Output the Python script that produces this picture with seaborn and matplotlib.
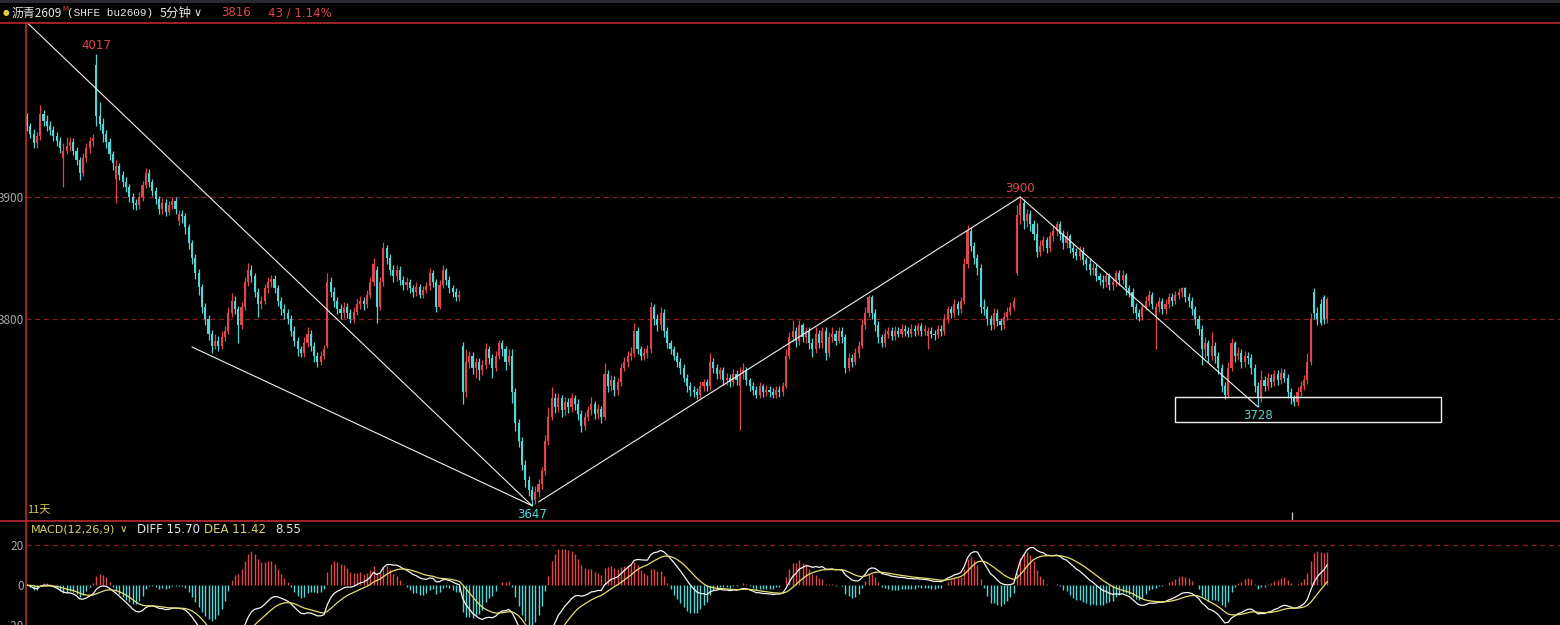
import numpy as np
import pandas as pd
import matplotlib
matplotlib.use("Agg")
import matplotlib.pyplot as plt
from matplotlib.lines import Line2D
from matplotlib.patches import Rectangle
import seaborn as sns

# ---------------- data (5-minute bars) ----------------
opens = [
 3966, 3958, 3952, 3944, 3950, 3968, 3962, 3958, 3955, 3950,
 3946, 3932, 3938, 3942, 3945, 3938, 3930, 3920, 3932, 3940,
 3946, 4008, 3966, 3960, 3952, 3945, 3935, 3915, 3925, 3918,
 3912, 3908, 3900, 3895, 3893, 3900, 3910, 3920, 3912, 3905,
 3898, 3890, 3895, 3888, 3893, 3897, 3880, 3886, 3884, 3875,
 3862, 3850, 3838, 3826, 3810, 3800, 3788, 3778, 3782, 3778,
 3785, 3790, 3805, 3815, 3808, 3795, 3810, 3830, 3840, 3835,
 3822, 3812, 3815, 3825, 3830, 3833, 3825, 3815, 3808, 3805,
 3800, 3790, 3782, 3775, 3772, 3780, 3788, 3778, 3770, 3765,
 3770, 3778, 3830, 3822, 3815, 3808, 3805, 3810, 3805, 3800,
 3806, 3812, 3815, 3812, 3820, 3830, 3840, 3810, 3830, 3858,
 3850, 3840, 3835, 3840, 3832, 3828, 3830, 3825, 3822, 3826,
 3820, 3824, 3827, 3838, 3830, 3810, 3828, 3840, 3832, 3825,
 3822, 3818, 3778, 3740, 3765, 3770, 3760, 3765, 3758, 3762,
 3775, 3768, 3760, 3770, 3780, 3775, 3765, 3770, 3740, 3715,
 3700, 3680, 3668, 3660, 3652, 3658, 3665, 3675, 3700, 3720,
 3735, 3728, 3735, 3725, 3732, 3728, 3735, 3730, 3722, 3712,
 3720, 3725, 3730, 3722, 3726, 3720, 3755, 3745, 3750, 3742,
 3748, 3760, 3765, 3770, 3772, 3790, 3775, 3770, 3772, 3775,
 3810, 3800, 3795, 3805, 3790, 3780, 3775, 3770, 3765, 3760,
 3752, 3745, 3742, 3740, 3738, 3745, 3748, 3745, 3765, 3760,
 3755, 3758, 3750, 3752, 3748, 3755, 3745, 3755, 3758, 3750,
 3745, 3742, 3738, 3745, 3740, 3742, 3740, 3738, 3742, 3740,
 3745, 3770, 3785, 3790, 3782, 3795, 3785, 3790, 3780, 3775,
 3788, 3780, 3790, 3772, 3785, 3788, 3782, 3790, 3785, 3760,
 3768, 3765, 3772, 3778, 3795, 3805, 3818, 3805, 3795, 3785,
 3780, 3788, 3790, 3786, 3790, 3788, 3792, 3790, 3788, 3792,
 3790, 3794, 3790, 3786, 3790, 3788, 3787, 3792, 3790, 3800,
 3808, 3805, 3812, 3808, 3815, 3845, 3872, 3860, 3850, 3842,
 3810, 3808, 3800, 3795, 3805, 3798, 3795, 3802, 3806, 3810,
 3838, 3885, 3895, 3880, 3886, 3878, 3870, 3855, 3860, 3865,
 3858, 3868, 3872, 3878, 3870, 3862, 3868, 3858, 3855, 3852,
 3856, 3848, 3845, 3840, 3842, 3835, 3832, 3830, 3835, 3828,
 3830, 3838, 3832, 3836, 3825, 3822, 3810, 3805, 3802, 3810,
 3815, 3820, 3802, 3810, 3815, 3808, 3812, 3818, 3815, 3820,
 3822, 3825, 3818, 3815, 3808, 3800, 3792, 3775, 3780, 3770,
 3778, 3770, 3760, 3745, 3738, 3760, 3780, 3770, 3772, 3765,
 3770, 3768, 3760, 3745, 3735, 3750, 3745, 3752, 3748, 3755,
 3750, 3756, 3752, 3740, 3735, 3732, 3740, 3745, 3750, 3765,
 3822, 3805, 3812, 3818, 3800]

highs = [
 3969, 3961, 3956, 3953, 3975, 3971, 3967, 3962, 3958, 3953,
 3949, 3944, 3949, 3949, 3948, 3941, 3933, 3936, 3944, 3949,
 3952, 4017, 3978, 3965, 3955, 3948, 3938, 3930, 3928, 3921,
 3916, 3911, 3903, 3898, 3904, 3913, 3924, 3923, 3915, 3908,
 3901, 3899, 3898, 3897, 3900, 3900, 3889, 3889, 3887, 3878,
 3865, 3853, 3841, 3829, 3813, 3803, 3791, 3788, 3786, 3790,
 3794, 3810, 3821, 3819, 3811, 3814, 3834, 3846, 3844, 3838,
 3825, 3819, 3829, 3834, 3836, 3836, 3828, 3818, 3812, 3808,
 3803, 3794, 3785, 3778, 3785, 3793, 3791, 3781, 3773, 3774,
 3779, 3838, 3834, 3826, 3818, 3812, 3814, 3813, 3808, 3810,
 3816, 3819, 3818, 3824, 3834, 3850, 3843, 3834, 3863, 3861,
 3853, 3844, 3844, 3843, 3835, 3834, 3833, 3828, 3830, 3829,
 3827, 3830, 3842, 3840, 3833, 3832, 3844, 3842, 3835, 3828,
 3825, 3824, 3781, 3775, 3774, 3773, 3768, 3768, 3766, 3780,
 3778, 3771, 3774, 3783, 3783, 3778, 3775, 3775, 3743, 3718,
 3703, 3684, 3671, 3663, 3663, 3669, 3679, 3705, 3728, 3744,
 3739, 3739, 3738, 3736, 3735, 3739, 3738, 3734, 3725, 3724,
 3729, 3736, 3733, 3730, 3729, 3764, 3758, 3754, 3753, 3752,
 3764, 3769, 3774, 3777, 3797, 3793, 3778, 3776, 3779, 3814,
 3812, 3804, 3810, 3808, 3793, 3783, 3778, 3773, 3768, 3763,
 3755, 3748, 3745, 3743, 3749, 3751, 3751, 3772, 3768, 3763,
 3761, 3761, 3756, 3755, 3759, 3758, 3761, 3764, 3761, 3752,
 3748, 3745, 3748, 3747, 3746, 3745, 3743, 3745, 3745, 3748,
 3775, 3789, 3799, 3793, 3799, 3797, 3793, 3793, 3784, 3793,
 3791, 3793, 3793, 3789, 3793, 3791, 3793, 3793, 3788, 3772,
 3771, 3776, 3782, 3800, 3810, 3820, 3820, 3808, 3798, 3788,
 3792, 3793, 3793, 3794, 3793, 3796, 3795, 3793, 3796, 3795,
 3797, 3797, 3795, 3793, 3793, 3791, 3795, 3795, 3804, 3811,
 3811, 3816, 3815, 3818, 3850, 3877, 3875, 3863, 3853, 3845,
 3816, 3811, 3803, 3809, 3808, 3801, 3806, 3810, 3814, 3818,
 3893, 3900, 3898, 3890, 3889, 3881, 3879, 3865, 3868, 3867,
 3871, 3876, 3880, 3880, 3873, 3872, 3870, 3862, 3858, 3860,
 3859, 3851, 3849, 3846, 3845, 3838, 3836, 3838, 3838, 3834,
 3840, 3840, 3840, 3838, 3828, 3825, 3813, 3808, 3813, 3819,
 3824, 3822, 3813, 3818, 3817, 3816, 3821, 3821, 3823, 3825,
 3826, 3826, 3821, 3818, 3811, 3803, 3795, 3785, 3783, 3789,
 3781, 3773, 3763, 3748, 3765, 3784, 3782, 3777, 3775, 3774,
 3773, 3771, 3763, 3748, 3758, 3753, 3756, 3755, 3758, 3758,
 3760, 3759, 3755, 3743, 3738, 3744, 3749, 3754, 3772, 3805,
 3825, 3810, 3816, 3820, 3818]

lows = [
 3954, 3948, 3940, 3940, 3947, 3958, 3954, 3951, 3946, 3942,
 3936, 3908, 3935, 3938, 3934, 3926, 3914, 3917, 3929, 3936,
 3942, 3958, 3955, 3945, 3940, 3930, 3922, 3895, 3914, 3908,
 3904, 3896, 3890, 3889, 3890, 3897, 3907, 3908, 3901, 3894,
 3886, 3886, 3884, 3885, 3890, 3886, 3877, 3879, 3870, 3857,
 3845, 3833, 3820, 3805, 3795, 3783, 3772, 3775, 3774, 3775,
 3782, 3788, 3802, 3804, 3780, 3792, 3807, 3827, 3830, 3818,
 3802, 3808, 3812, 3821, 3826, 3821, 3811, 3803, 3800, 3796,
 3786, 3778, 3770, 3769, 3769, 3777, 3774, 3765, 3761, 3762,
 3767, 3776, 3818, 3810, 3804, 3800, 3801, 3801, 3797, 3797,
 3803, 3808, 3807, 3809, 3817, 3827, 3797, 3807, 3827, 3845,
 3836, 3830, 3831, 3828, 3824, 3824, 3821, 3818, 3819, 3817,
 3817, 3821, 3824, 3826, 3806, 3808, 3825, 3828, 3821, 3818,
 3815, 3815, 3730, 3736, 3760, 3755, 3752, 3750, 3754, 3759,
 3763, 3752, 3757, 3767, 3770, 3758, 3762, 3731, 3708, 3695,
 3676, 3662, 3655, 3647, 3648, 3654, 3661, 3672, 3697, 3717,
 3723, 3724, 3720, 3721, 3723, 3724, 3725, 3717, 3707, 3709,
 3716, 3721, 3718, 3718, 3715, 3717, 3740, 3741, 3737, 3738,
 3745, 3757, 3761, 3766, 3769, 3771, 3766, 3766, 3768, 3772,
 3795, 3790, 3791, 3785, 3776, 3771, 3766, 3761, 3755, 3748,
 3740, 3737, 3736, 3734, 3735, 3741, 3741, 3742, 3756, 3751,
 3751, 3746, 3746, 3744, 3745, 3746, 3709, 3751, 3746, 3741,
 3738, 3735, 3735, 3736, 3737, 3736, 3735, 3735, 3736, 3737,
 3743, 3767, 3781, 3777, 3779, 3781, 3780, 3775, 3769, 3772,
 3776, 3776, 3766, 3769, 3781, 3779, 3780, 3780, 3756, 3757,
 3761, 3762, 3768, 3776, 3792, 3802, 3800, 3790, 3780, 3777,
 3777, 3784, 3783, 3783, 3785, 3785, 3786, 3785, 3785, 3786,
 3787, 3786, 3787, 3775, 3784, 3783, 3784, 3786, 3787, 3797,
 3801, 3802, 3803, 3805, 3812, 3842, 3856, 3845, 3836, 3805,
 3803, 3795, 3791, 3792, 3794, 3791, 3792, 3799, 3803, 3807,
 3836, 3878, 3874, 3875, 3872, 3865, 3851, 3852, 3856, 3854,
 3855, 3864, 3868, 3865, 3857, 3858, 3854, 3850, 3848, 3848,
 3844, 3840, 3836, 3836, 3831, 3828, 3825, 3826, 3824, 3824,
 3827, 3828, 3829, 3820, 3818, 3805, 3800, 3798, 3799, 3807,
 3811, 3808, 3775, 3806, 3804, 3804, 3809, 3811, 3812, 3816,
 3818, 3814, 3810, 3803, 3795, 3787, 3762, 3768, 3765, 3766,
 3764, 3755, 3740, 3734, 3736, 3757, 3765, 3766, 3760, 3761,
 3763, 3755, 3740, 3728, 3732, 3741, 3742, 3744, 3745, 3746,
 3747, 3748, 3735, 3730, 3729, 3729, 3737, 3742, 3747, 3762,
 3800, 3795, 3795, 3796, 3797]

closes = [
 3958, 3952, 3944, 3950, 3968, 3962, 3958, 3955, 3950, 3946,
 3940, 3938, 3942, 3945, 3938, 3930, 3920, 3932, 3940, 3946,
 3948, 3966, 3960, 3952, 3945, 3935, 3928, 3925, 3918, 3912,
 3908, 3900, 3895, 3893, 3900, 3910, 3920, 3912, 3905, 3898,
 3890, 3895, 3888, 3893, 3897, 3890, 3886, 3884, 3875, 3862,
 3850, 3838, 3826, 3810, 3800, 3788, 3778, 3782, 3778, 3785,
 3790, 3805, 3815, 3808, 3795, 3810, 3830, 3840, 3835, 3822,
 3812, 3815, 3825, 3830, 3833, 3825, 3815, 3808, 3805, 3800,
 3790, 3782, 3775, 3772, 3780, 3788, 3778, 3770, 3765, 3770,
 3775, 3830, 3822, 3815, 3808, 3805, 3810, 3805, 3800, 3806,
 3812, 3815, 3812, 3820, 3830, 3845, 3810, 3830, 3858, 3850,
 3840, 3835, 3840, 3832, 3828, 3830, 3825, 3822, 3826, 3820,
 3824, 3827, 3838, 3830, 3810, 3828, 3840, 3832, 3825, 3822,
 3818, 3820, 3740, 3765, 3770, 3760, 3765, 3758, 3762, 3775,
 3768, 3760, 3770, 3780, 3775, 3765, 3770, 3740, 3715, 3700,
 3680, 3668, 3660, 3652, 3658, 3665, 3675, 3700, 3720, 3735,
 3728, 3735, 3725, 3732, 3728, 3735, 3730, 3722, 3712, 3720,
 3725, 3730, 3722, 3726, 3720, 3755, 3745, 3750, 3742, 3748,
 3760, 3765, 3770, 3772, 3790, 3775, 3770, 3772, 3775, 3810,
 3800, 3795, 3805, 3790, 3780, 3775, 3770, 3765, 3760, 3752,
 3745, 3742, 3740, 3738, 3745, 3748, 3745, 3765, 3760, 3755,
 3758, 3750, 3752, 3748, 3755, 3750, 3755, 3758, 3750, 3745,
 3742, 3738, 3745, 3740, 3742, 3740, 3738, 3742, 3740, 3745,
 3770, 3785, 3790, 3782, 3795, 3785, 3790, 3780, 3775, 3788,
 3780, 3790, 3772, 3785, 3788, 3782, 3790, 3785, 3760, 3768,
 3765, 3772, 3778, 3795, 3805, 3818, 3805, 3795, 3785, 3780,
 3788, 3790, 3786, 3790, 3788, 3792, 3790, 3788, 3792, 3790,
 3794, 3790, 3792, 3790, 3788, 3787, 3792, 3790, 3800, 3808,
 3805, 3812, 3808, 3815, 3845, 3872, 3860, 3850, 3842, 3810,
 3808, 3800, 3795, 3805, 3798, 3795, 3802, 3806, 3810, 3815,
 3885, 3895, 3880, 3886, 3878, 3870, 3855, 3860, 3865, 3858,
 3868, 3872, 3878, 3870, 3862, 3868, 3858, 3855, 3852, 3856,
 3848, 3845, 3840, 3842, 3835, 3832, 3830, 3835, 3828, 3830,
 3838, 3832, 3836, 3825, 3822, 3810, 3805, 3802, 3810, 3815,
 3820, 3812, 3810, 3815, 3808, 3812, 3818, 3815, 3820, 3822,
 3825, 3818, 3815, 3808, 3800, 3792, 3775, 3780, 3770, 3778,
 3770, 3760, 3745, 3738, 3760, 3780, 3770, 3772, 3765, 3770,
 3768, 3760, 3745, 3735, 3750, 3745, 3752, 3748, 3755, 3750,
 3756, 3752, 3740, 3735, 3732, 3740, 3745, 3750, 3765, 3800,
 3805, 3800, 3797, 3800, 3816]

price_ticks = [3900, 3800]
macd_ticks = [20, 0, -20]

# hand-drawn trend lines (bar index, price) and the support box
trend_idx = [[0, 153], [50, 153], [155, 301], [301, 373]]
trend_px = [[4043, 3647], [3777, 3647], [3650, 3900], [3900, 3728]]
box_idx = [348, 428.5]
box_px = [3715.5, 3736]

# extreme-point labels
mark_idx = [21, 301, 153, 373]
mark_px = [4017, 3900, 3647, 3728]
mark_txt = ["4017", "3900", "3647", "3728"]

header_name = "沥青2609"
header_code = "(SHFE bu2609)"
header_period = "5分钟"
header_last = "3816"
header_chg = "43 / 1.14%"
macd_name = "MACD(12,26,9)"
macd_vals = ["DIFF 15.70", "DEA 11.42", "8.55"]
days_label = "11天"

# ---------------- style ----------------
RED = "#e0474c"
CYAN = "#55d6d6"
WHITE = "#e8e8e8"
YEL = "#dcd26a"
GRID = "#8a1f22"
SEP = "#c0282d"
TXT = "#a8a8a8"

sns.set_theme(style="dark", rc={"axes.facecolor": "black", "figure.facecolor": "black",
                                "savefig.facecolor": "black", "axes.edgecolor": "black"})
plt.rcParams['font.family'] = ['Noto Sans CJK SC', 'DejaVu Sans']

W, H = 1560, 625
fig = plt.figure(figsize=(W / 100, H / 100), dpi=100)
fig.patch.set_facecolor("black")


def fx(px):
    return px / W


def fy(py):
    return 1 - py / H


ax = fig.add_axes([fx(26), fy(520), (W - 26) / W, (520 - 22) / H])
axm = fig.add_axes([fx(26), 0, (W - 26) / W, (625 - 521) / H])

x0 = 27.0
step = 3.3
for a in (ax, axm):
    a.set_facecolor("black")
    a.set_xlim((26 - x0) / step, (W - x0) / step)
    for s in a.spines.values():
        s.set_visible(False)
    a.set_xticks([])
    a.grid(False)
    a.tick_params(axis="y", length=0, pad=1.5, labelcolor=TXT, labelsize=8.5)

ax.set_ylim(3635.2, 4043.4)
axm.set_ylim(-18.5, 32.2)

# ---------------- candles ----------------
o = np.array(opens, float)
h = np.array(highs, float)
l = np.array(lows, float)
c = np.array(closes, float)
idx = np.arange(len(c))
cols = np.where(c > o, RED, np.where(c < o, CYAN, WHITE))
ax.vlines(idx, l, h, colors=cols, linewidth=0.9)
ax.bar(idx, np.maximum(np.abs(c - o), 0.9), bottom=np.minimum(o, c), width=0.64,
       color=cols, linewidth=0)

ax.set_yticks(price_ticks)
ax.set_yticklabels([str(t) for t in price_ticks])
for t in price_ticks:
    ax.axhline(t, color=GRID, linewidth=0.9, linestyle=(0, (4, 3)), zorder=0)

# trend lines and box
for tx, ty in zip(trend_idx, trend_px):
    ax.plot(tx, ty, color="#f0f0f0", linewidth=0.8, zorder=5)
ax.add_patch(Rectangle((box_idx[0], box_px[0]), box_idx[1] - box_idx[0], box_px[1] - box_px[0],
                       fill=False, edgecolor="#f0f0f0", linewidth=1.0, zorder=5))

for i, p, t in zip(mark_idx, mark_px, mark_txt):
    is_high = p >= max(h[max(i - 3, 0):i + 4])
    ax.annotate(t, (i, p), xytext=(0, 1.5 if is_high else -1.5), textcoords="offset points",
                ha="center", va="bottom" if is_high else "top", fontsize=8.5,
                color=RED if is_high else CYAN, family=["DejaVu Sans"], zorder=6)

# small cursor tick at bottom of price panel
ax.vlines(383.3, 3635.2, 3641.8, colors="#c8c8c8", linewidth=0.9)

# ---------------- MACD ----------------
s = pd.Series(c)
ema12 = s.ewm(span=12, adjust=False).mean()
ema26 = s.ewm(span=26, adjust=False).mean()
diff = ema12 - ema26
dea = diff.ewm(span=9, adjust=False).mean()
hist = 2 * (diff - dea)
hcols = np.where(hist >= 0, RED, CYAN)
axm.vlines(idx, 0, hist.values, colors=hcols, linewidth=1.0)
mdf = pd.DataFrame({"i": idx, "diff": diff.values, "dea": dea.values})
sns.lineplot(data=mdf, x="i", y="diff", ax=axm, color="#f4f4f4", linewidth=0.9)
sns.lineplot(data=mdf, x="i", y="dea", ax=axm, color="#e6de70", linewidth=0.9)
axm.set_xlabel("")
axm.set_ylabel("")
axm.set_xticks([])
axm.set_yticks(macd_ticks)
axm.set_yticklabels([str(t) for t in macd_ticks])
axm.set_xlim((26 - x0) / step, (W - x0) / step)
axm.axhline(20, color=GRID, linewidth=0.9, linestyle=(0, (4, 3)), zorder=0)

# ---------------- frame lines & header ----------------
fig.add_artist(Rectangle((0, fy(3)), 1, 3 / H, transform=fig.transFigure,
                         facecolor="#2a2a30", edgecolor="none"))
fig.add_artist(Line2D([0, 1], [fy(22.5), fy(22.5)], transform=fig.transFigure, color=SEP, linewidth=1.2))
fig.add_artist(Line2D([0, 1], [fy(520.5), fy(520.5)], transform=fig.transFigure, color=SEP, linewidth=1.2))
fig.add_artist(Line2D([fx(26.5), fx(26.5)], [fy(22.5), 0], transform=fig.transFigure, color=SEP, linewidth=1.2))

hy = fy(13)
fig.text(fx(3), hy, "●", color="#e0d040", fontsize=5.5, va="center", family=["DejaVu Sans"])
fig.text(fx(11), hy, header_name, color="#e6e6e6", fontsize=8.6, va="center")
fig.text(fx(62), fy(9), "M", color=RED, fontsize=5, va="center", family=["DejaVu Sans"])
fig.text(fx(67), hy, header_code, color="#e6e6e6", fontsize=8, va="center", family=["Liberation Mono", "DejaVu Sans Mono"])
fig.text(fx(160), hy, header_period, color="#e6e6e6", fontsize=9, va="center")
fig.text(fx(194), hy, "∨", color="#e6e6e6", fontsize=8, va="center", family=["DejaVu Sans"])
fig.text(fx(221), hy, header_last, color=RED, fontsize=8.5, va="center", family=["DejaVu Sans"])
fig.text(fx(268), hy, header_chg, color=RED, fontsize=8.5, va="center", family=["DejaVu Sans"])

fig.text(fx(27), fy(510), days_label, color="#d8c85a", fontsize=8, va="center")

my = fy(529.5)
fig.text(fx(31), my, macd_name, color=YEL, fontsize=8, va="center", family=["DejaVu Sans"])
fig.text(fx(120), my, "∨", color=YEL, fontsize=7.5, va="center", family=["DejaVu Sans"])
fig.text(fx(137), my, macd_vals[0], color="#e6e6e6", fontsize=8.5, va="center", family=["DejaVu Sans"])
fig.text(fx(204), my, macd_vals[1], color=YEL, fontsize=8.5, va="center", family=["DejaVu Sans"])
fig.text(fx(275), my, macd_vals[2], color="#e6e6e6", fontsize=8.5, va="center", family=["DejaVu Sans"])

fig.savefig("out.png", dpi=100, facecolor="black")
